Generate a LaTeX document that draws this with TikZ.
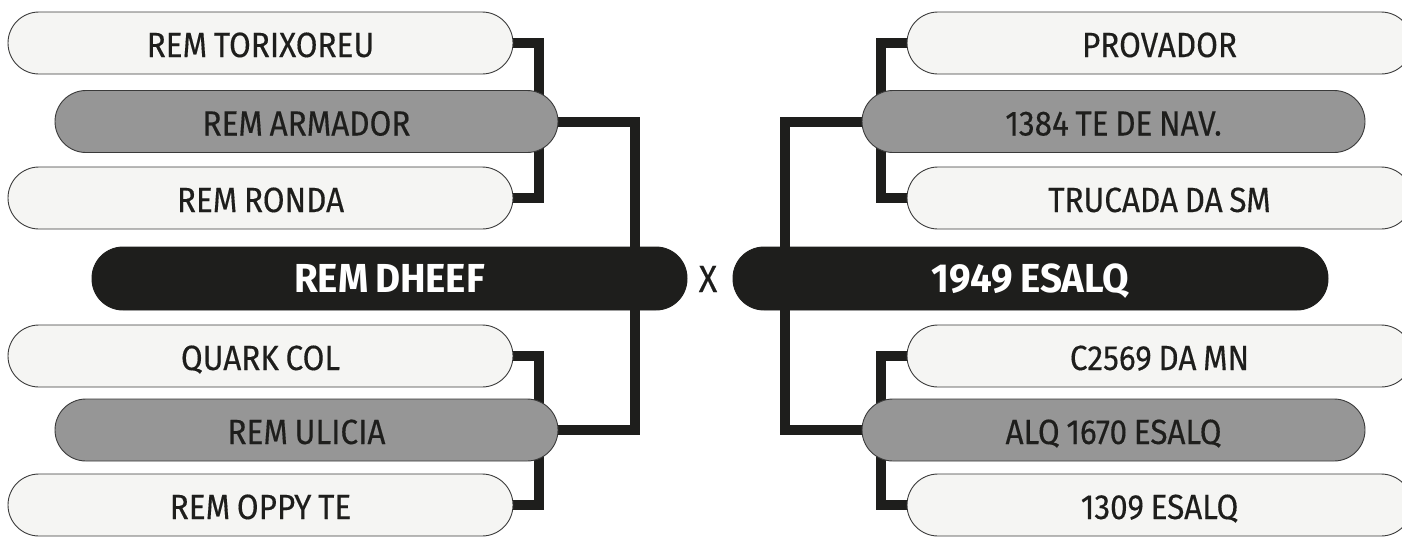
\documentclass[tikz,border=0pt]{standalone}
\usepackage{fontspec}
\setmainfont{Fira Sans}
\newfontfamily\pillfont[FakeStretch=0.9,FakeBold=0.3,WordSpace=0.8]{Fira Sans}
\newfontfamily\headfont[FakeStretch=0.95,WordSpace=0.75]{Fira Sans}
\definecolor{wfill}{HTML}{F5F5F3}
\definecolor{gfill}{HTML}{969696}
\definecolor{bfill}{HTML}{1E1E1C}
\definecolor{ink}{HTML}{1E1E1C}
\definecolor{pillline}{HTML}{3A3A3A}
\pgfdeclarelayer{bg}
\pgfsetlayers{bg,main}
\tikzset{
  pill/.style={rectangle, rounded corners=31pt, minimum height=62pt, inner sep=0pt,
    draw=pillline, line width=0.9pt, text=ink, font=\pillfont\fontsize{35}{40}\selectfont,
    text height=28pt, text depth=0pt},
  wpill/.style={pill, fill=wfill, minimum width=505pt},
  gpill/.style={pill, fill=gfill, minimum width=503pt},
  bpill/.style={pill, fill=bfill, draw=bfill, text=white, minimum width=595pt,
    minimum height=63pt, font=\headfont\bfseries\fontsize{40.5}{46}\selectfont,
    text height=28pt},
  link/.style={draw=ink, line width=10pt, line join=miter, line cap=butt},
  vs/.style={text=ink, font=\pillfont\fontsize{38}{44}\selectfont, inner sep=0pt,
    text height=26pt, text depth=0pt}
}
\begin{document}
\begin{tikzpicture}[x=1pt,y=-1pt]
\useasboundingbox (0,0) rectangle (1402,536);
\begin{pgfonlayer}{bg}
  \fill[white] (0,0) rectangle (1402,536);
\end{pgfonlayer}
\clip (0,0) rectangle (1402,536);
% left side
\node[wpill] (torix)  at (260.5,43)    {REM TORIXOREU};
\node[gpill] (armad)  at (306.5,121.5) {REM ARMADOR};
\node[wpill] (ronda)  at (260.5,198)   {REM RONDA};
\node[bpill] (dheef)  at (389.5,278.5) {REM DHEEF};
\node[wpill] (quark)  at (260.5,356)   {QUARK COL};
\node[gpill] (ulicia) at (306.5,430)   {REM ULICIA};
\node[wpill] (oppy)   at (260.5,505)   {REM OPPY TE};
% right side
\node[wpill] (prov)   at (1159.5,43)    {PROVADOR};
\node[gpill] (nav)    at (1113.5,121.5) {1384 TE DE NAV.};
\node[wpill] (truc)   at (1159.5,198)   {TRUCADA DA SM};
\node[bpill] (esalq)  at (1030.5,278.5) {1949 ESALQ};
\node[wpill] (mn)     at (1159.5,356)   {C2569 DA MN};
\node[gpill] (alq)    at (1113.5,430)   {ALQ 1670 ESALQ};
\node[wpill] (e1309)  at (1159.5,505)   {1309 ESALQ};
% versus
\node[vs] (x) at (708,279) {X};
% connector columns
\coordinate (bl) at (539,0);
\coordinate (jl) at (635,0);
\coordinate (br) at (881,0);
\coordinate (jr) at (785,0);
\begin{pgfonlayer}{bg}
  \draw[link] (torix.east) -| (bl |- ronda.east) -- (ronda.east);
  \draw[link] (quark.east) -| (bl |- oppy.east) -- (oppy.east);
  \draw[link] (armad.east) -| (jl |- ulicia.east) -- (ulicia.east);
  \draw[link] (prov.west) -| (br |- truc.west) -- (truc.west);
  \draw[link] (mn.west) -| (br |- e1309.west) -- (e1309.west);
  \draw[link] (nav.west) -| (jr |- alq.west) -- (alq.west);
\end{pgfonlayer}
\end{tikzpicture}
\end{document}
